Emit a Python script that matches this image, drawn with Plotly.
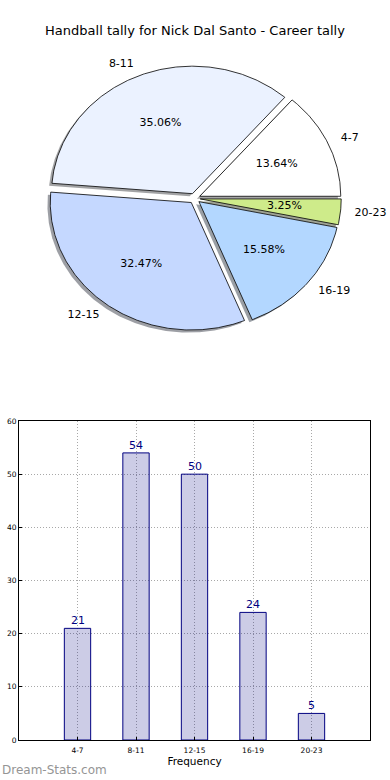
import numpy as np
import plotly.graph_objects as go

# ---- data ----
categories = ["4-7", "8-11", "12-15", "16-19", "20-23"]
counts = [21, 54, 50, 24, 5]
pie_colors = ["#FFFFFF", "#EBF2FF", "#C5D8FF", "#B3D7FF", "#CEEB8A"]
title_text = "Handball tally for Nick Dal Santo - Career tally"
xlabel_text = "Frequency"
y_ticks = [0, 10, 20, 30, 40, 50, 60]

# ---- style ----
explode = 0.04
shadow_off = -0.02
W, H = 390, 780
sx, sy = 141.0, 127.5          # pixels per unit radius (matplotlib non-equal aspect)
cx_px, cy_px = 194.6, 198.4   # pie centre in pixels
pie_h_px = 390

fig = go.Figure()

total = float(sum(counts))
fracs = [c / total for c in counts]
theta1 = 0.0
wedges = []
for cat, f, col in zip(categories, fracs, pie_colors):
    theta2 = theta1 + 360.0 * f
    mid = np.deg2rad((theta1 + theta2) / 2)
    ox, oy = explode * np.cos(mid), explode * np.sin(mid)
    t = np.deg2rad(np.linspace(theta1, theta2, max(int(abs(theta2 - theta1)), 2) * 2))
    xs = np.concatenate([[ox], ox + np.cos(t), [ox]])
    ys = np.concatenate([[oy], oy + np.sin(t), [oy]])
    wedges.append((cat, f, col, xs, ys, mid, ox, oy))
    theta1 = theta2

# shadows
for cat, f, col, xs, ys, mid, ox, oy in wedges:
    rgb = [int(col[i:i + 2], 16) for i in (1, 3, 5)]
    sc = "rgba(%d,%d,%d,0.5)" % tuple(int(0.3 * v) for v in rgb)
    fig.add_trace(go.Scatter(x=xs + shadow_off, y=ys + shadow_off, mode="lines",
                             fill="toself", fillcolor=sc, line=dict(width=0),
                             hoverinfo="skip", showlegend=False,
                             xaxis="x", yaxis="y"))
# wedges
for cat, f, col, xs, ys, mid, ox, oy in wedges:
    fig.add_trace(go.Scatter(x=xs, y=ys, mode="lines", fill="toself", fillcolor=col,
                             line=dict(color="black", width=0.8), name=cat,
                             hoverinfo="skip", showlegend=False,
                             xaxis="x", yaxis="y"))

# labels
lx, ly, lt, lpos = [], [], [], []
px, py, pt = [], [], []
for cat, f, col, xs, ys, mid, ox, oy in wedges:
    x1 = ox + 1.1 * np.cos(mid)
    y1 = oy + 1.1 * np.sin(mid)
    lx.append(x1); ly.append(y1); lt.append(cat)
    lpos.append("middle right" if x1 > 0 else "middle left")
    px.append(ox + 0.6 * np.cos(mid)); py.append(oy + 0.6 * np.sin(mid))
    pt.append("%.2f%%" % (100 * f))
for i in range(len(lx)):
    fig.add_trace(go.Scatter(x=[lx[i]], y=[ly[i]], mode="text", text=[lt[i]],
                             textposition=lpos[i],
                             textfont=dict(family="DejaVu Sans", size=11, color="black"),
                             cliponaxis=False,
                             hoverinfo="skip", showlegend=False, xaxis="x", yaxis="y"))
fig.add_trace(go.Scatter(x=px, y=py, mode="text", text=pt, textposition="middle center",
                         textfont=dict(family="DejaVu Sans", size=11, color="black"),
                         hoverinfo="skip", showlegend=False, xaxis="x", yaxis="y"))

# bars
fig.add_trace(go.Bar(x=categories, y=counts, width=0.45,
                     marker=dict(color="rgba(0,0,128,0.2)", line=dict(color="#000080", width=1)),
                     hoverinfo="skip", showlegend=False,
                     xaxis="x2", yaxis="y2"))

bar_annotations = [dict(text=str(c), x=cat, y=c, xref="x2", yref="y2", xanchor="center",
                        yanchor="bottom", yshift=-1, showarrow=False,
                        font=dict(family="DejaVu Sans", size=11, color="#000080"))
                   for cat, c in zip(categories, counts)]

x_rng = [-cx_px / sx, (W - cx_px) / sx]
y_rng = [-(pie_h_px - cy_px) / sy, cy_px / sy]

fig.update_layout(
    width=W, height=H, margin=dict(l=0, r=0, t=0, b=0, autoexpand=False),
    paper_bgcolor="white", plot_bgcolor="white",
    font=dict(family="DejaVu Sans", color="black"),
    title=dict(text=title_text, x=0.5, xanchor="center", y=1 - 30 / H, yanchor="middle",
               font=dict(family="DejaVu Sans", size=13, color="black")),
    xaxis=dict(domain=[0, 1], range=x_rng, visible=False, fixedrange=True, automargin=False),
    yaxis=dict(domain=[1 - pie_h_px / H, 1], range=y_rng, visible=False, fixedrange=True,
               automargin=False),
    xaxis2=dict(domain=[19 / W, 370 / W], anchor="y2", range=[-1, 5], type="category",
                automargin=False,
                showgrid=True, gridcolor="#a8a8a8", griddash="1px,2px", gridwidth=1,
                showline=True, linecolor="black", linewidth=1, mirror=True,
                ticks="inside", ticklen=3, tickcolor="black", ticklabelstandoff=3,
                tickfont=dict(family="DejaVu Sans", size=7.5, color="black"),
                title=dict(text=xlabel_text, standoff=2,
                           font=dict(family="DejaVu Sans", size=10.5, color="black")),
                zeroline=False),
    yaxis2=dict(domain=[1 - 740 / H, 1 - 421 / H], anchor="x2", range=[0, 60],
                automargin=False,
                tickvals=y_ticks, showgrid=True, gridcolor="#a8a8a8", griddash="1px,2px",
                gridwidth=1, showline=True, linecolor="black", linewidth=1, mirror=True,
                ticks="inside", ticklen=3, tickcolor="black",
                tickfont=dict(family="DejaVu Sans", size=7.5, color="black"),
                zeroline=False),
    annotations=bar_annotations + [
        dict(text="Dream-Stats.com", x=0, y=1 - 770 / H, xref="paper",
             yref="paper", xanchor="left", yanchor="middle", showarrow=False,
             font=dict(family="DejaVu Sans", size=12, color="#959595"))],
)

fig.write_html("out.html", post_script="document.body.style.margin='0px';",
               config={"displayModeBar": False})
